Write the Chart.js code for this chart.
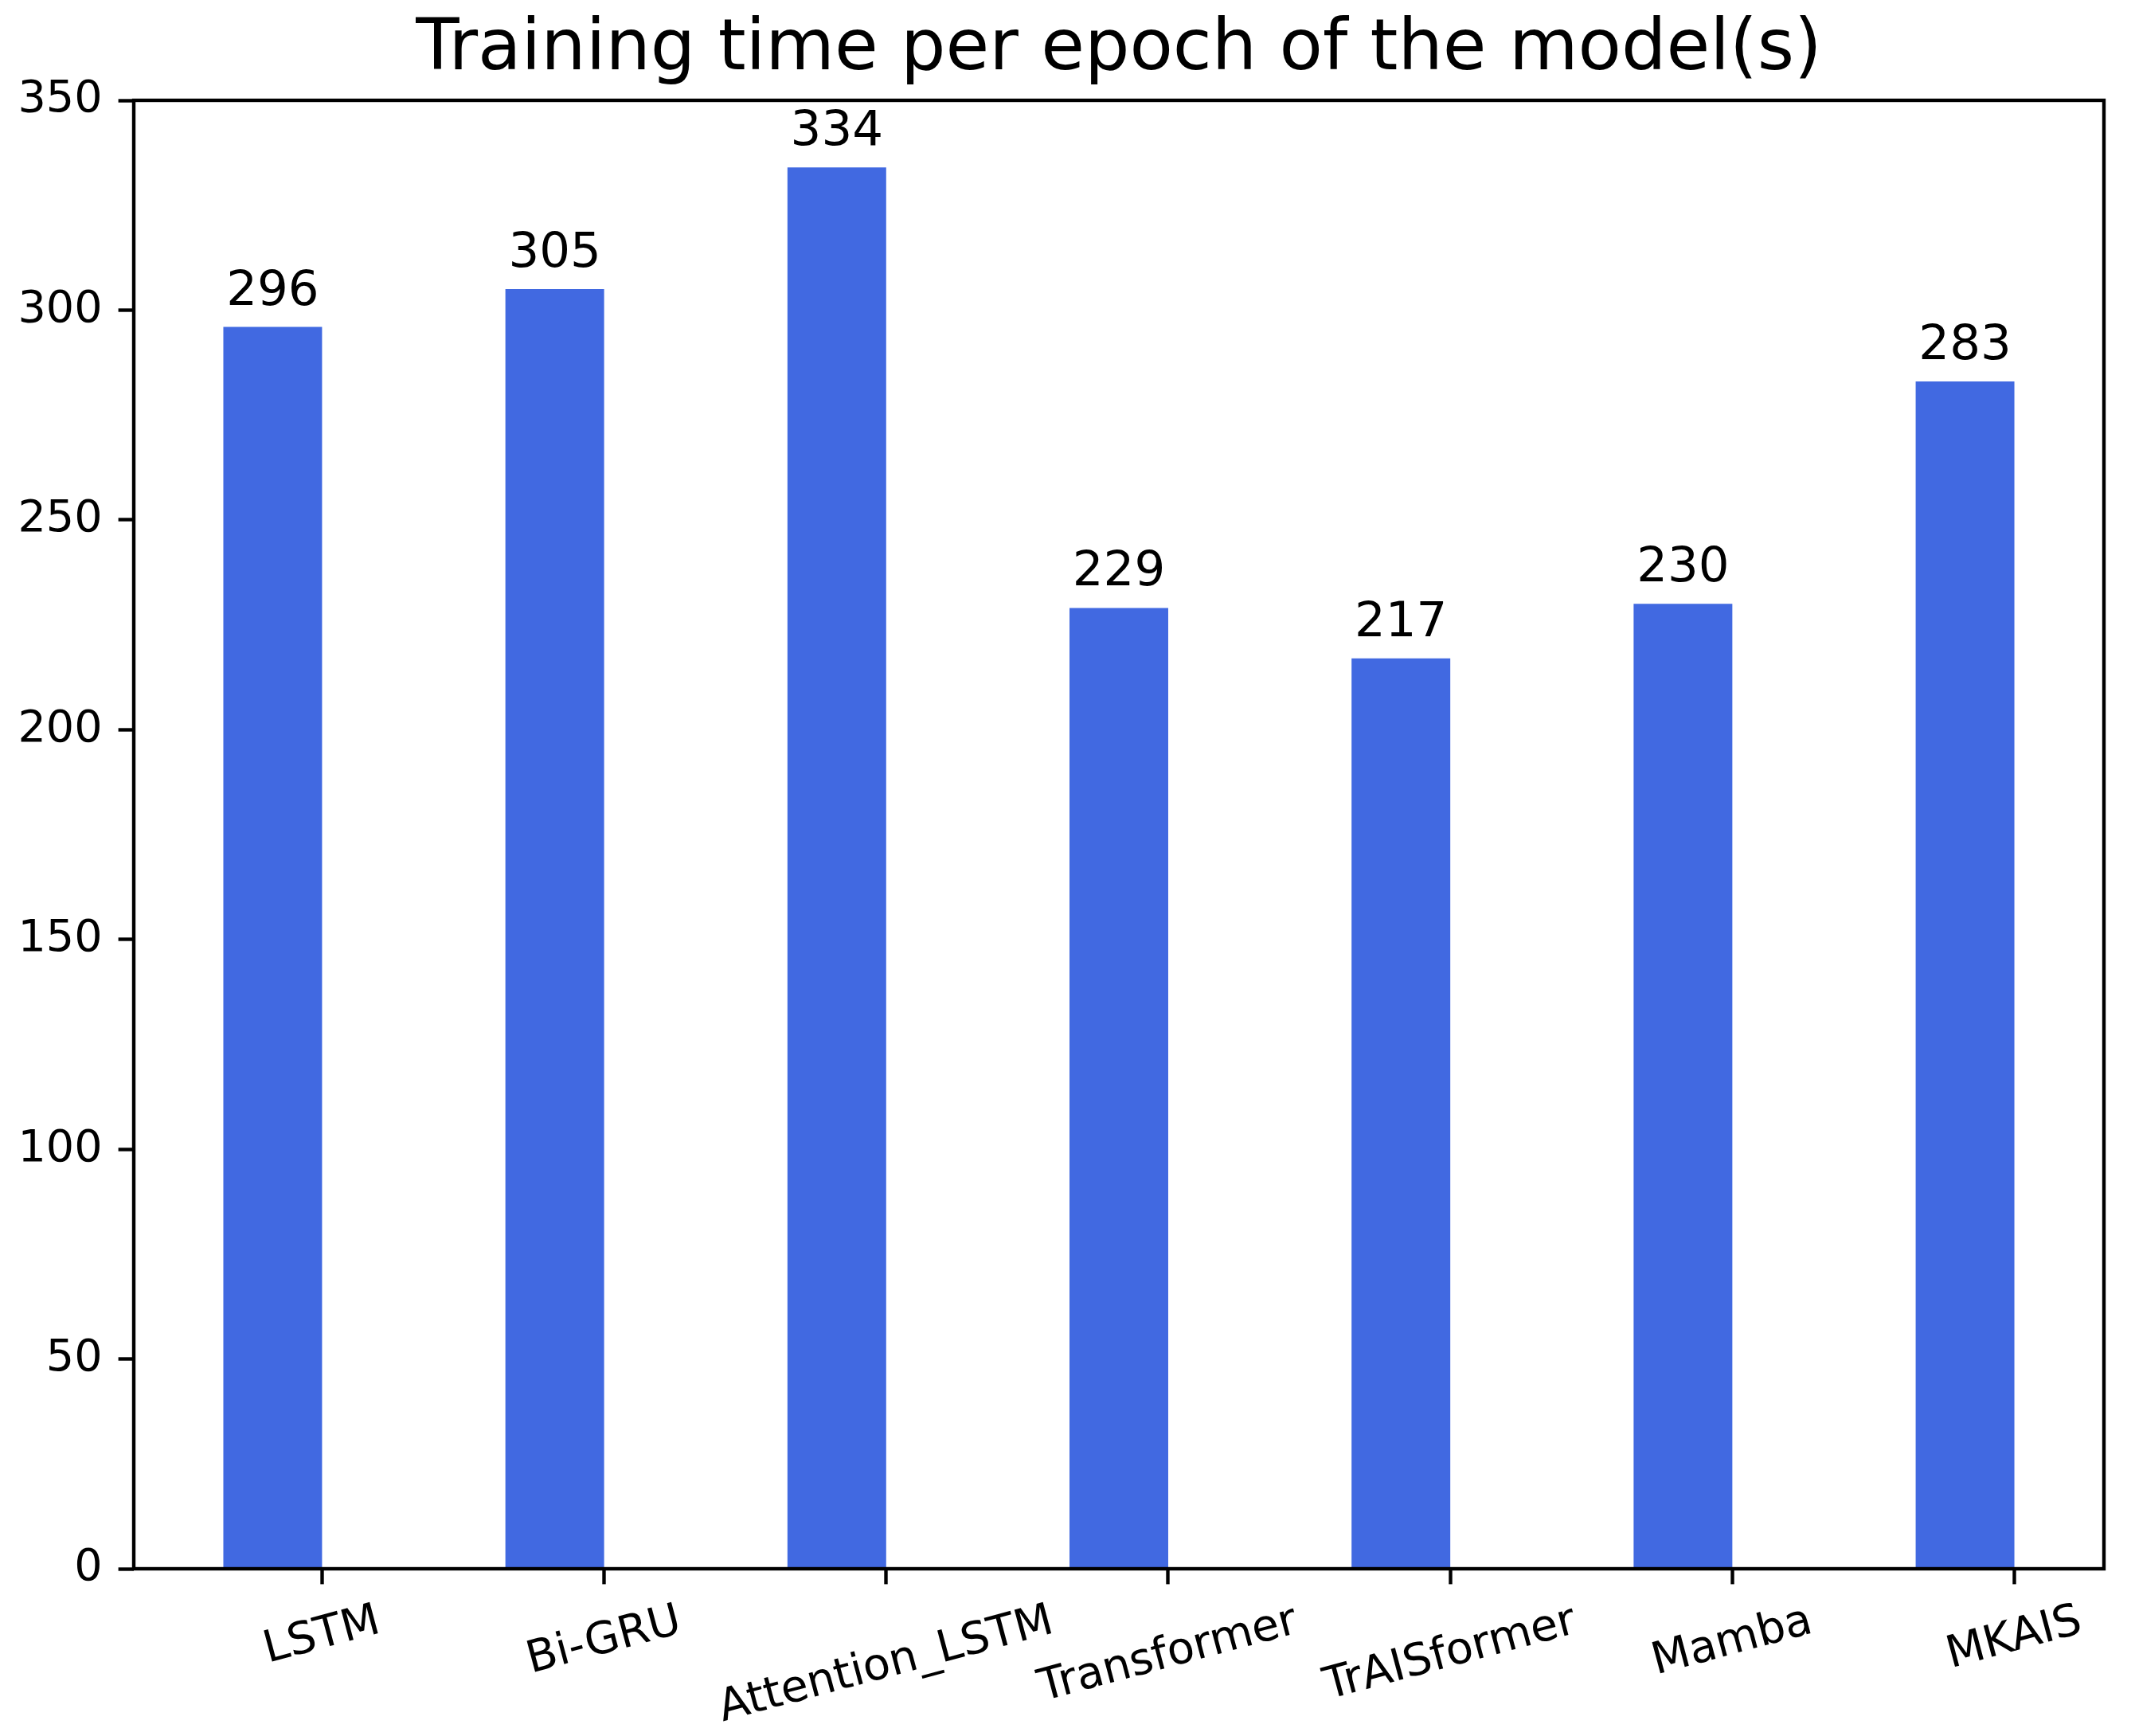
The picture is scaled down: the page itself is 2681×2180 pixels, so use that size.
<!DOCTYPE html>
<html>
<head>
<meta charset="utf-8">
<script src="https://cdn.jsdelivr.net/npm/chart.js@4/dist/chart.umd.min.js"></script>
<style>
  body { margin: 0; background: #fff; }
  canvas { display: block; }
</style>
</head>
<body>
<canvas id="chart" width="2681" height="2180"></canvas>
<script>
const categories = ["LSTM", "Bi-GRU", "Attention_LSTM", "Transformer", "TrAISformer", "Mamba", "MKAIS"];
const trainTimes = [296, 305, 334, 229, 217, 230, 283];
const yTicks = [0, 50, 100, 150, 200, 250, 300, 350];

const barWidth = 0.35;          // in category units, bar sits left of its tick
const FONT = "'DejaVu Sans', sans-serif";
const tickLen = 19.4;
const axisLw = 4.4;

// matplotlib style auto margins (5%)
const span = (categories.length - 1) + barWidth;
const xMin = -barWidth - 0.05 * span;
const xMax = (categories.length - 1) + 0.05 * span;

const frameAndLabels = {
    id: 'frameAndLabels',
    afterDatasetsDraw(chart) {
        const ctx = chart.ctx;
        const meta = chart.getDatasetMeta(0);
        ctx.save();
        ctx.fillStyle = '#000';
        ctx.font = `61px ${FONT}`;
        ctx.textAlign = 'center';
        ctx.textBaseline = 'alphabetic';
        meta.data.forEach((bar, i) => {
            ctx.fillText(String(trainTimes[i]), bar.x, bar.y - 28);
        });
        ctx.restore();
    },
    afterDraw(chart) {
        const ctx = chart.ctx;
        const a = chart.chartArea;
        ctx.save();
        ctx.strokeStyle = '#000';
        ctx.lineWidth = axisLw;
        ctx.strokeRect(a.left, a.top, a.right - a.left, a.bottom - a.top);

        // rotated category labels, centred on their tick like matplotlib
        const size = 55.6;
        const ang = 15 * Math.PI / 180;
        ctx.font = `${size}px ${FONT}`;
        ctx.fillStyle = '#000';
        ctx.textAlign = 'center';
        ctx.textBaseline = 'alphabetic';
        const xs = chart.scales.x;
        const top = a.bottom + tickLen + 19.4;
        categories.forEach((lab, i) => {
            const px = xs.getPixelForValue(i);
            const w = ctx.measureText(lab).width;
            const h = size;
            const cy = top + (w * Math.sin(ang) + h * Math.cos(ang)) / 2;
            ctx.save();
            ctx.translate(px, cy);
            ctx.rotate(-ang);
            ctx.fillText(lab, 0, 0.26 * size);
            ctx.restore();
        });
        ctx.restore();
    }
};

new Chart(document.getElementById('chart'), {
    type: 'bar',
    data: {
        datasets: [{
            label: 'Training time',
            data: trainTimes.map((v, i) => ({ x: i - barWidth / 2, y: v })),
            backgroundColor: '#4169E1',
            borderWidth: 0,
            barPercentage: barWidth,
            categoryPercentage: 1
        }]
    },
    options: {
        responsive: false,
        animation: false,
        devicePixelRatio: 1,
        layout: { padding: { left: 0, right: 39, top: 0, bottom: 0 } },
        plugins: {
            legend: { display: false },
            tooltip: { enabled: false },
            title: {
                display: true,
                text: 'Training time per epoch of the model(s)',
                fullSize: false,
                color: '#000',
                font: { family: FONT, size: 89, weight: 'normal', lineHeight: 1.2 },
                padding: { top: 10.8, bottom: 8.4 }
            }
        },
        scales: {
            x: {
                type: 'linear',
                min: xMin,
                max: xMax,
                offset: false,
                afterBuildTicks: (scale) => {
                    scale.ticks = categories.map((c, i) => ({ value: i }));
                },
                afterFit: (scale) => { scale.height = 210; },
                border: { display: false },
                grid: {
                    offset: false,
                    drawOnChartArea: false,
                    drawTicks: true,
                    tickLength: tickLen,
                    tickWidth: axisLw,
                    color: '#000'
                },
                ticks: { display: false }
            },
            y: {
                min: 0,
                max: 350,
                afterBuildTicks: (scale) => {
                    scale.ticks = yTicks.map(v => ({ value: v }));
                },
                afterFit: (scale) => { scale.width = 168; },
                border: { display: false },
                grid: {
                    drawOnChartArea: false,
                    drawTicks: true,
                    tickLength: tickLen,
                    tickWidth: axisLw,
                    color: '#000'
                },
                ticks: {
                    color: '#000',
                    padding: 20,
                    font: { family: FONT, size: 55.6 },
                    callback: (v) => String(v)
                }
            }
        }
    },
    plugins: [frameAndLabels]
});
</script>
</body>
</html>
